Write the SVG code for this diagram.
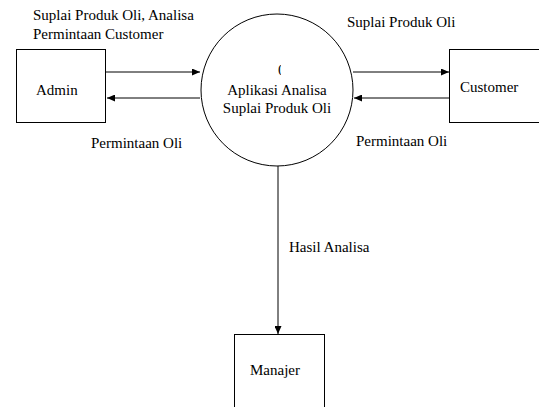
<svg xmlns="http://www.w3.org/2000/svg" width="539" height="407" viewBox="0 0 539 407" font-family="'Liberation Serif', 'DejaVu Serif', 'Times New Roman', serif" font-size="15">
<style>
.box{fill:#fff;stroke:#000;stroke-width:1}
.ln{stroke:#000;stroke-width:1;fill:none;marker-end:url(#ah)}
</style>
<defs>
<marker id="ah" markerWidth="8" markerHeight="7" refX="8" refY="3.5" orient="auto" markerUnits="userSpaceOnUse">
<path d="M0,0 L8,3.5 L0,7 Z" fill="#000"/>
</marker>
<clipPath id="cA"><rect x="0" y="0" width="82" height="407"/></clipPath>
<clipPath id="cC"><rect x="0" y="0" width="524" height="407"/></clipPath>
<clipPath id="cM"><rect x="0" y="0" width="308" height="407"/></clipPath>
<clipPath id="c0"><rect x="0" y="0" width="281" height="407"/></clipPath>
<clipPath id="cT"><rect x="0" y="0" width="187" height="407"/></clipPath>
</defs>
<g id="connectors">
<line class="ln" x1="106" y1="72" x2="200" y2="72"/>
<line class="ln" x1="200" y1="98" x2="107" y2="98"/>
<line class="ln" x1="353" y1="72" x2="449" y2="72"/>
<line class="ln" x1="449" y1="98" x2="354" y2="98"/>
<line class="ln" x1="278" y1="166" x2="278" y2="334"/>
<text x="33" y="20">Suplai Produk Oli, Analisa</text>
<text x="33" y="39" clip-path="url(#cT)">Permintaan Customer</text>
<text x="91" y="148">Permintaan Oli</text>
<text x="347" y="27">Suplai Produk Oli</text>
<text x="356" y="146">Permintaan Oli</text>
<text x="289" y="252">Hasil Analisa</text>
</g>
<g id="admin">
<rect class="box" x="16.5" y="49.5" width="89" height="73"/>
<text x="36" y="95" clip-path="url(#cA)">Admin</text>
</g>
<g id="process">
<circle class="box" cx="277" cy="90" r="76"/>
<text x="278" y="75" clip-path="url(#c0)">0</text>
<text x="277" y="95" text-anchor="middle">Aplikasi Analisa</text>
<text x="277" y="113" text-anchor="middle">Suplai Produk Oli</text>
</g>
<g id="customer">
<rect class="box" x="449.5" y="49.5" width="92" height="73"/>
<text x="460" y="92" clip-path="url(#cC)">Customer</text>
</g>
<g id="manajer">
<rect class="box" x="234.5" y="334.5" width="90" height="80"/>
<text x="250" y="375" clip-path="url(#cM)">Manajer</text>
</g>
</svg>
